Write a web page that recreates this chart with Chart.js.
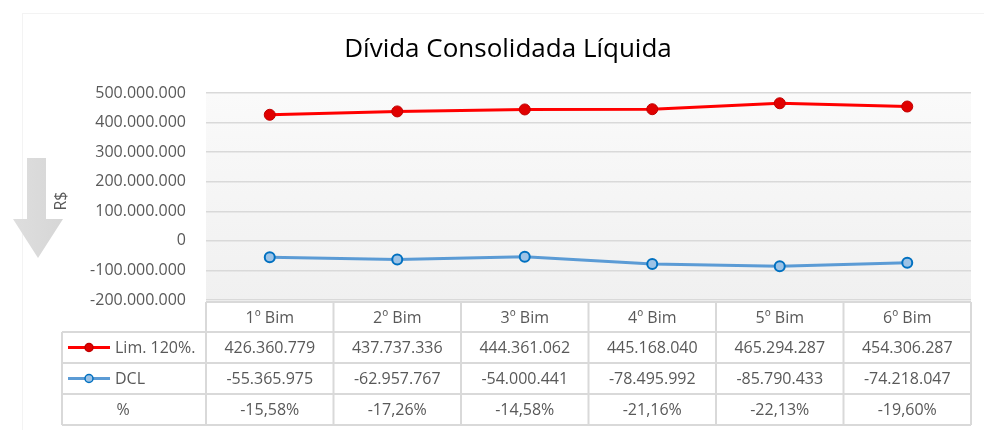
<!DOCTYPE html>
<html>
<head>
<meta charset="utf-8">
<script src="https://cdn.jsdelivr.net/npm/chart.js@4"></script>
<style>
  html, body { margin: 0; padding: 0; background: #fff; }
  #wrap { width: 984px; height: 430px; }
</style>
</head>
<body>
<div id="wrap"><canvas id="chart-dcl" width="984" height="430"></canvas></div>
<script>
// Dados
const categorias = ['1º Bim', '2º Bim', '3º Bim', '4º Bim', '5º Bim', '6º Bim'];
const limite120 = [426360779, 437737336, 444361062, 445168040, 465294287, 454306287];
const dcl = [-55365975, -62957767, -54000441, -78495992, -85790433, -74218047];
const percentuais = ['-15,58%', '-17,26%', '-14,58%', '-21,16%', '-22,13%', '-19,60%'];
const yMin = -200000000, yMax = 500000000, yStep = 100000000;

const FONT = '"Open Sans", sans-serif';
const TXT = '#595959';
const LINHA = '#d9d9d9';

function fmt(n) {
  const s = Math.abs(n).toString().replace(/\B(?=(\d{3})+(?!\d))/g, '.');
  return (n < 0 ? '-' : '') + s;
}

// ============================================================
// Fundo, título, seta e tabela de dados
// ============================================================
const decor = {
  id: 'decor',
  beforeDraw(chart) {
    const { ctx, chartArea: a } = chart;
    ctx.save();
    // borda externa bem clara
    ctx.strokeStyle = '#f3f3f3';
    ctx.lineWidth = 1;
    ctx.strokeRect(22.5, 13.5, 990, 430);
    // fundo do gráfico em degradê
    const g = ctx.createLinearGradient(0, a.top, 0, a.bottom);
    g.addColorStop(0, '#fafafa');
    g.addColorStop(1, '#f0f0f0');
    ctx.fillStyle = g;
    ctx.fillRect(a.left, a.top, a.right - a.left, a.bottom - a.top);
    ctx.restore();
  },
  afterDraw(chart) {
    const { ctx, chartArea: a } = chart;
    const xs = chart.scales.x;
    ctx.save();

    // título
    ctx.fillStyle = '#000';
    ctx.font = '26px ' + FONT;
    ctx.textAlign = 'center';
    ctx.textBaseline = 'middle';
    ctx.fillText('Dívida Consolidada Líquida', 508, 50);

    // seta cinza
    const ag = ctx.createLinearGradient(13, 0, 63, 0);
    ag.addColorStop(0, '#dedede');
    ag.addColorStop(1, '#d6d6d6');
    ctx.fillStyle = ag;
    ctx.beginPath();
    ctx.moveTo(27, 158); ctx.lineTo(46, 158); ctx.lineTo(46, 219);
    ctx.lineTo(63, 219); ctx.lineTo(38, 258); ctx.lineTo(13, 219);
    ctx.lineTo(27, 219); ctx.closePath();
    ctx.fill();

    // R$
    ctx.save();
    ctx.translate(61, 201);
    ctx.rotate(-Math.PI / 2);
    ctx.fillStyle = TXT;
    ctx.font = '16px ' + FONT;
    ctx.fillText('R$', 0, 0);
    ctx.restore();

    // tabela
    const colW = (a.right - a.left) / categorias.length;
    const rows = [302, 332, 363, 394, 425];
    const left0 = 62;
    ctx.strokeStyle = LINHA;
    ctx.lineWidth = 2;
    ctx.beginPath();
    // horizontais
    ctx.moveTo(a.left, rows[0]); ctx.lineTo(a.right, rows[0]);
    for (let r = 1; r < rows.length; r++) {
      ctx.moveTo(left0, rows[r]); ctx.lineTo(a.right, rows[r]);
    }
    // verticais
    ctx.moveTo(left0, rows[1]); ctx.lineTo(left0, rows[4]);
    for (let i = 0; i <= categorias.length; i++) {
      const x = a.left + i * colW;
      ctx.moveTo(x, rows[0]); ctx.lineTo(x, rows[4]);
    }
    ctx.stroke();

    ctx.fillStyle = TXT;
    ctx.font = '16px ' + FONT;
    ctx.textAlign = 'center';
    ctx.textBaseline = 'middle';
    const mid = r => (rows[r] + rows[r + 1]) / 2 + 1;
    categorias.forEach((c, i) => {
      const cx = xs.getPixelForValue(i);
      ctx.fillText(c, cx, mid(0));
      ctx.fillText(fmt(limite120[i]), cx, mid(1));
      ctx.fillText(fmt(dcl[i]), cx, mid(2));
      ctx.fillText(percentuais[i], cx, mid(3));
    });
    ctx.fillText('%', 123, mid(3));

    // chaves da legenda
    const keys = [
      { label: 'Lim. 120%.', ds: chart.data.datasets[0], r: 1 },
      { label: 'DCL', ds: chart.data.datasets[1], r: 2 },
    ];
    keys.forEach(k => {
      const y = mid(k.r) - 1;
      ctx.strokeStyle = k.ds.borderColor;
      ctx.lineWidth = 3;
      ctx.beginPath(); ctx.moveTo(68, y); ctx.lineTo(110, y); ctx.stroke();
      ctx.beginPath(); ctx.arc(89, y, 4, 0, Math.PI * 2);
      ctx.fillStyle = k.ds.pointBackgroundColor;
      ctx.fill();
      ctx.strokeStyle = k.ds.pointBorderColor;
      ctx.lineWidth = 1.5;
      ctx.stroke();
      ctx.fillStyle = TXT;
      ctx.textAlign = 'left';
      ctx.fillText(k.label, 115, mid(k.r));
    });
    ctx.restore();
  }
};

new Chart(document.getElementById('chart-dcl'), {
  type: 'line',
  data: {
    labels: categorias,
    datasets: [
      {
        label: 'Lim. 120%.', data: limite120,
        borderColor: '#ff0000', borderWidth: 3,
        pointRadius: 5.5, pointBackgroundColor: '#e00000', pointBorderColor: '#c00000', pointBorderWidth: 1,
        tension: 0,
      },
      {
        label: 'DCL', data: dcl,
        borderColor: '#5b9bd5', borderWidth: 3,
        pointRadius: 5, pointBackgroundColor: '#9dc3e6', pointBorderColor: '#0070c0', pointBorderWidth: 2,
        tension: 0,
      },
    ],
  },
  options: {
    responsive: false,
    animation: false,
    devicePixelRatio: 1,
    layout: { padding: { top: 93, bottom: 130, right: 13, left: 0 } },
    plugins: { legend: { display: false }, title: { display: false }, tooltip: { enabled: false } },
    scales: {
      x: { display: false, offset: true },
      y: {
        min: yMin, max: yMax,
        afterFit(s) { s.width = 206; },
        ticks: {
          stepSize: yStep, padding: 20, color: TXT,
          font: { family: FONT, size: 16 },
          callback: v => fmt(v),
        },
        grid: { color: LINHA, lineWidth: 1.5, drawTicks: false },
        border: { display: false },
      },
    },
  },
  plugins: [decor],
});
</script>
</body>
</html>
